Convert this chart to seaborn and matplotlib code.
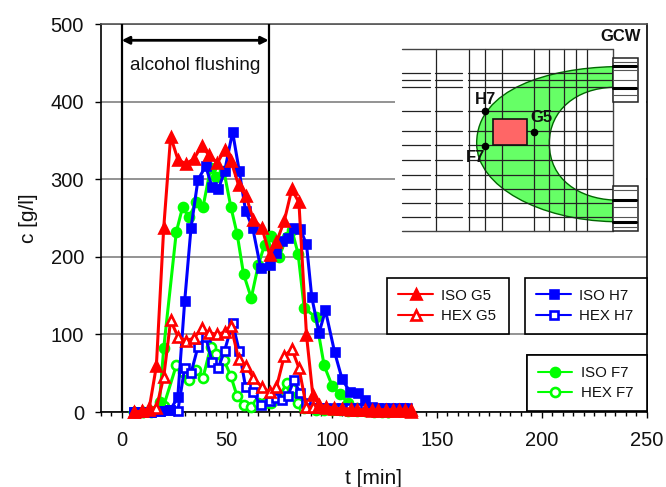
import matplotlib
matplotlib.use("Agg")
import matplotlib.pyplot as plt
from matplotlib.patches import PathPatch, Rectangle
from matplotlib.path import Path
from matplotlib.ticker import MultipleLocator
import seaborn as sns

# === data ===
t_g5 = [6, 9.5, 13, 16.5, 20, 23.3, 26.8, 30.5, 34.4, 38, 41.6, 45.6, 49, 52, 55.7, 59.2, 62.7, 66.8, 70.5, 73.7,
        77.4, 81, 84.4, 88, 91, 94, 97.5, 101, 105, 109, 112, 116, 119, 122, 126, 129, 132, 135, 138]
iso_g5 = [0, 1, 3, 59, 237, 355, 325, 320, 326, 343, 331, 321, 338, 324, 292, 278, 248, 237, 202, 219,
          246, 287, 270, 99, 22, 9, 7, 5, 4, 3, 2, 2, 1, 1, 1, 1, 1, 1, 0]
hex_g5 = [0, 1, 5, 5, 45, 118, 97, 92, 95, 108, 102, 100, 103, 111, 68, 59, 44, 32, 26, 32,
          72, 81, 57, 6, 6, 6, 5, 4, 4, 4, 3, 3, 3, 3, 3, 3, 3, 3, 2]

t_h7 = [6, 10, 14, 18, 23, 26.7, 30, 33, 36.3, 40, 43, 46, 49, 52.8, 56, 59, 62.4, 66.2, 70.5, 73.7,
        76.5, 79, 82, 85, 88, 90.5, 94, 97, 101.4, 105, 108.7, 112.7, 115.8, 119, 122, 125, 128, 131, 134, 136]
iso_h7 = [0, 0, 0, 1, 2, 19, 143, 237, 299, 317, 290, 287, 310, 361, 310, 259, 237, 185, 190, 205,
          220, 224, 237, 236, 216, 148, 102, 131, 77, 42, 26, 25, 16, 6, 4, 3, 3, 2, 2, 2]
hex_h7 = [0, 0, 0, 1, 3, 1, 57, 50, 84, 97, 65, 57, 79, 115, 78, 32, 26, 9, 14, 18,
          15, 20, 41, 24, 11, 5, 5, 5, 5, 5, 5, 5, 5, 5, 5, 5, 5, 5, 5, 5]

t_f7 = [6, 10, 14, 18, 20, 26, 29, 32, 35.5, 38.7, 42.4, 45, 48.7, 52, 55, 58, 61.7, 65, 68, 71,
        75, 78.6, 81, 84, 86.9, 92.4, 96.4, 100.3, 104, 108, 112, 116, 120, 124, 127]
iso_f7 = [0, 0, 1, 13, 82, 232, 264, 251, 270, 264, 315, 303, 310, 264, 229, 178, 147, 189, 215, 227,
          200, 226, 235, 204, 134, 122, 60, 33, 23, 11, 5, 3, 2, 1, 0]
hex_f7 = [0, 0, 0, 2, 8, 60, 52, 41, 54, 44, 84, 75, 67, 46, 20, 9, 7, 11, 12, 11,
          20, 37, 30, 11, 5, 3, 3, 2, 2, 1, 1, 1, 0, 0, 0]

GREEN, BLUE, RED = "#00ff00", "#0000ff", "#ff0000"
W, H = 666, 487

sns.set_style("white")
plt.rcParams["font.family"] = ["Liberation Sans", "DejaVu Sans"]

fig = plt.figure(figsize=(W / 100, H / 100), dpi=100)
ax = fig.add_axes([100.7 / W, (H - 412) / H, 546 / W, 388 / H])


# === series ===
def draw(t, c, label, color, marker, size, filled):
    sns.lineplot(x=t, y=c, ax=ax, color=color, label=label, estimator=None, sort=False, errorbar=None,
                 linewidth=2.2, marker=marker, markersize=size, markeredgecolor=color,
                 markeredgewidth=1.9, markerfacecolor=color if filled else "white",
                 clip_on=False, zorder=4)


draw(t_f7, hex_f7, "HEX F7", GREEN, "o", 6.5, False)
draw(t_f7, iso_f7, "ISO F7", GREEN, "o", 6.5, True)
draw(t_h7, hex_h7, "HEX H7", BLUE, "s", 6, False)
draw(t_h7, iso_h7, "ISO H7", BLUE, "s", 6, True)
draw(t_g5, hex_g5, "HEX G5", RED, "^", 6.5, False)
draw(t_g5, iso_g5, "ISO G5", RED, "^", 6.5, True)

ax.set_xlim(-10, 250)
ax.set_ylim(0, 500)
ax.set_xticks([0, 50, 100, 150, 200, 250])
ax.xaxis.set_minor_locator(MultipleLocator(5))
ax.set_yticks([0, 100, 200, 300, 400, 500])
ax.tick_params(axis="both", which="major", direction="out", length=4.5, width=1, color="black", labelsize=14.5,
               bottom=True, left=True, labelcolor="#111111")
ax.tick_params(axis="x", which="major", pad=9.5)
ax.tick_params(axis="y", which="major", pad=7.5)
ax.tick_params(axis="x", which="minor", direction="out", length=3, width=1, color="black", bottom=True)
ax.set_xlabel("t [min]", fontsize=15, labelpad=13, color="#111111")
ax.set_ylabel("c [g/l]", fontsize=15, labelpad=9, color="#111111")
ax.yaxis.grid(True, color="#8a8a8a", linewidth=1.3, zorder=0)
ax.set_axisbelow(True)
for s in ax.spines.values():
    s.set_color("black")
    s.set_linewidth(1.2)
ax.spines["top"].set_color("#555555")

# alcohol flushing
for t0 in [0, 70]:
    ax.axvline(t0, color="black", linewidth=1.6, zorder=3)
ax.annotate("", xy=(0, 479), xytext=(70, 479),
            arrowprops=dict(arrowstyle="<|-|>", color="black", lw=2, mutation_scale=11, shrinkA=0, shrinkB=0))
ax.text(35, 447, "alcohol flushing", ha="center", va="center", fontsize=13.7, color="#111111")

# === legends ===
handles = {h.get_label(): h for h in ax.get_legend_handles_labels()[0]}
ax.get_legend().remove()


def box(names, x0, y0, x1, y1):
    # pixel box -> data box
    bx = (x0 - 100.7) / 2.1 - 10
    by = (412 - y1) / 0.776
    leg = ax.legend([handles[n] for n in names], names, loc="center",
                    bbox_to_anchor=(bx, by, (x1 - x0) / 2.1, (y1 - y0) / 0.776),
                    bbox_transform=ax.transData, mode="expand", borderaxespad=0, fontsize=10.8, handlelength=2.3,
                    handletextpad=0.55, labelspacing=0.42, frameon=True, fancybox=False, framealpha=1,
                    edgecolor="black", borderpad=0.72, labelcolor="#111111")
    leg.get_frame().set_linewidth(1.2)
    leg.set_zorder(6)
    for ln in leg.get_lines():
        ln.set_linewidth(1.5)
    ax.add_artist(leg)


box(["ISO G5", "HEX G5"], 387.5, 277, 509.5, 334.5)
box(["ISO H7", "HEX H7"], 525.5, 277, 646.7, 334.5)
box(["ISO F7", "HEX F7"], 527, 354, 646.7, 412)

# === schematic, in picture pixels ===
sk = fig.add_axes([0, 0, 1, 1], facecolor="none", zorder=5)
sk.set_xlim(0, W)
sk.set_ylim(H, 0)
sk.axis("off")


def px(x):
    return 390 + x / 3


def py(y):
    return 30 + y / 3


sk.add_patch(Rectangle((395, 26), 250.5, 214, facecolor="white", edgecolor="none", zorder=1))
crescent = Path(
    [(px(668), py(110)), (px(480), py(115)), (px(260), py(175)), (px(260), py(340)),
     (px(260), py(470)), (px(450), py(570)), (px(668), py(575)),
     (px(668), py(510)), (px(570), py(505)), (px(478), py(450)), (px(478), py(340)),
     (px(478), py(240)), (px(560), py(175)), (px(668), py(172)), (px(668), py(110))],
    [Path.MOVETO, Path.CURVE4, Path.CURVE4, Path.CURVE4, Path.CURVE4, Path.CURVE4, Path.CURVE4,
     Path.LINETO, Path.CURVE4, Path.CURVE4, Path.CURVE4, Path.CURVE4, Path.CURVE4, Path.CURVE4, Path.CLOSEPOLY])
sk.add_patch(PathPatch(crescent, facecolor="#66ff66", edgecolor="#006600", linewidth=1, zorder=2))

grid_x = [137, 237, 285, 335, 433, 477, 521, 557, 590]
grid_y = [128, 150, 172, 243, 303, 345, 390, 435, 478, 518, 560]
for gx in grid_x:
    sk.plot([px(gx), px(gx)], [py(58), py(603)], color="#222222", linewidth=0.9, zorder=3)
for gy in grid_y:
    for a, b in [(37, 120), (135, 215), (235, 668)]:
        sk.plot([px(a), px(b)], [py(gy), py(gy)], color="#222222", linewidth=0.9, zorder=3)
for gy in [58, 603]:
    sk.plot([px(37), px(668)], [py(gy), py(gy)], color="#444444", linewidth=1, zorder=3)
sk.plot([px(668), px(668)], [py(58), py(603)], color="#444444", linewidth=1, zorder=3)

# wells
for y0, y1, thick, thin in [(85, 215, [108, 175], [97, 120, 150, 195]), (468, 603, [510, 577], [480, 530, 560, 592])]:
    sk.add_patch(Rectangle((px(668), py(y0)), (745 - 668) / 3, (y1 - y0) / 3, facecolor="white",
                           edgecolor="#222222", linewidth=1.1, zorder=3))
    for gy in thin:
        sk.plot([px(668), px(745)], [py(gy), py(gy)], color="#555555", linewidth=0.8, zorder=3)
    for gy in thick:
        sk.plot([px(668), px(738)], [py(gy), py(gy)], color="black", linewidth=2.2, zorder=4)

sk.add_patch(Rectangle((px(308), py(267)), 34, 26, facecolor="#ff6666", edgecolor="#111111", linewidth=1.2, zorder=4))
sk.plot([px(285), px(433), px(285)], [py(243), py(305), py(347)], "o", color="black", markersize=4.5, zorder=5)
for txt, x, y in [("H7", 287, 207), ("G5", 453, 262), ("F7", 257, 383), ("GCW", 693, 20)]:
    sk.text(px(x), py(y), txt, ha="center", va="center", fontsize=12, fontweight="bold", color="#111111", zorder=6)

fig.savefig("out.png", dpi=100)
